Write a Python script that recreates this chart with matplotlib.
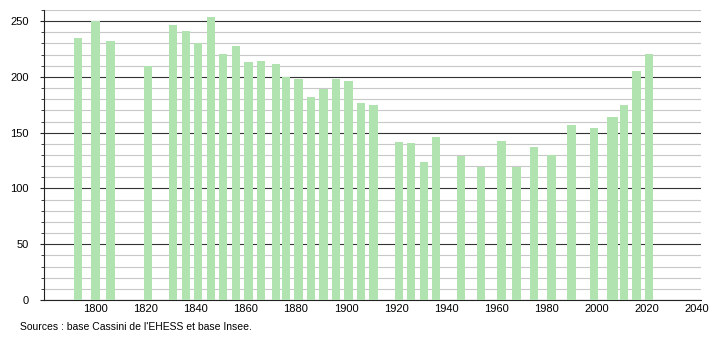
import numpy as np
import matplotlib.pyplot as plt
from matplotlib.ticker import MultipleLocator

# ==============================
# DATA
# ==============================
YEARS = [1793, 1800, 1806, 1821, 1831, 1836, 1841, 1846, 1851, 1856,
         1861, 1866, 1872, 1876, 1881, 1886, 1891, 1896, 1901, 1906,
         1911, 1921, 1926, 1931, 1936, 1946, 1954, 1962, 1968, 1975,
         1982, 1990, 1999, 2006, 2007, 2011, 2016, 2021]
POP = [235, 250, 232, 210, 247, 241, 230, 254, 221, 228,
       213, 214, 212, 200, 198, 182, 189, 198, 196, 177,
       175, 142, 141, 124, 146, 129, 119, 143, 119, 137,
       130, 157, 154, 164, 164, 175, 205, 221]

X_TICKS = list(range(1800, 2041, 20))
SOURCE = "Sources : base Cassini de l'EHESS et base Insee."

BAR_COLOR = "#b0e3b0"

# ==============================
# PLOT
# ==============================
plt.rcParams["font.family"] = ["Liberation Sans", "DejaVu Sans"]

fig = plt.figure(figsize=(7.1, 3.4), dpi=100)
ax = fig.add_axes([44 / 710, 1 - 300 / 340, (701 - 44) / 710, 290 / 340])

ax.bar(YEARS, POP, width=3.3, color=BAR_COLOR, zorder=3)

ax.set_xlim(1779.4, 2041.7)
ax.set_ylim(0, 260)

ax.yaxis.set_major_locator(MultipleLocator(50))
ax.yaxis.set_minor_locator(MultipleLocator(10))
ax.set_xticks(X_TICKS)

ax.grid(axis="y", which="minor", color="#c8c8c8", linewidth=0.8, zorder=1)
ax.grid(axis="y", which="major", color="#333333", linewidth=0.8, zorder=2)
ax.grid(axis="x", visible=False)

for side in ["top", "right"]:
    ax.spines[side].set_visible(False)
ax.spines["left"].set_color("#222222")
ax.spines["bottom"].set_color("#222222")

ax.tick_params(axis="x", length=0, pad=3, labelsize=8)
ax.tick_params(axis="y", which="major", length=3, pad=8, labelsize=8, color="#222222")
ax.tick_params(axis="y", which="minor", length=2, color="#222222")

fig.text(20 / 710, 1 - 327 / 340, SOURCE, fontsize=7.5, va="center", ha="left")

fig.savefig("out.png", dpi=100)
